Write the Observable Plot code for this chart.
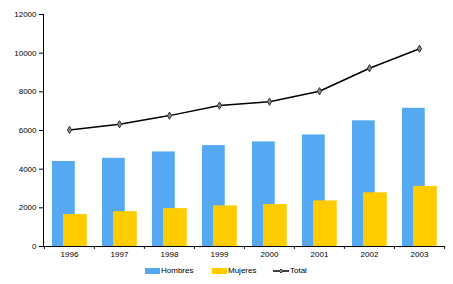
<!DOCTYPE html>
<html>
<head>
<meta charset="utf-8">
<script src="https://cdn.jsdelivr.net/npm/d3@7"></script>
<script src="https://cdn.jsdelivr.net/npm/@observablehq/plot@0.6"></script>
<style>
  body { margin: 0; background: #fff; font-family: "Liberation Sans", Arial, sans-serif; }
  #wrap { position: relative; width: 453px; height: 284px; }
  .leg { position: absolute; top: 262px; height: 18px; line-height: 18px; font-size: 8px; color: #000; white-space: nowrap; }
  .sw { position: absolute; top: 6px; width: 15px; height: 6px; }
</style>
</head>
<body>
<div id="wrap"></div>
<script>
const years = ["1996", "1997", "1998", "1999", "2000", "2001", "2002", "2003"];
const hombres = [4400, 4560, 4890, 5220, 5410, 5770, 6500, 7150];
const mujeres = [1650, 1800, 1960, 2100, 2170, 2360, 2780, 3110];
const total = [6030, 6320, 6770, 7290, 7490, 8030, 9220, 10230];
const yTicks = [0, 2000, 4000, 6000, 8000, 10000, 12000];
const seriesNames = ["Hombres", "Mujeres", "Total"];
const colors = {Hombres: "#55a9f2", Mujeres: "#ffcc00", Total: "#000000"};

const data = years.map((y, i) => ({year: y, hombres: hombres[i], mujeres: mujeres[i], total: total[i]}));
const W = 453, H = 262, mL = 43, mR = 8;
const bw = (W - mL - mR) / years.length;

const chart = Plot.plot({
  width: W,
  height: H,
  marginLeft: mL,
  marginRight: mR,
  marginTop: 14,
  marginBottom: 16,
  style: {fontFamily: "Liberation Sans, Arial, sans-serif", fontSize: "8px", color: "#000", background: "#fff"},
  x: {domain: years, padding: 0, axis: null, label: null},
  y: {domain: [0, 12000], axis: null, label: null},
  marks: [
    Plot.barY(data, {x: "year", y: "hombres", fill: colors.Hombres, insetLeft: 8, insetRight: bw - 8 - 23}),
    Plot.barY(data, {x: "year", y: "mujeres", fill: colors.Mujeres, insetLeft: 19, insetRight: bw - 19 - 24}),
    Plot.ruleY([0], {stroke: "#000", strokeWidth: 1}),
    Plot.ruleX(years, {x: d => d, y1: 0, y2: -150, dx: -bw / 2, stroke: "#000"}),
    Plot.ruleX([years[years.length - 1]], {x: d => d, y1: 0, y2: -150, dx: bw / 2, stroke: "#000"}),
    Plot.frame({anchor: "left", stroke: "#000", strokeDasharray: "2,1"}),
    Plot.axisY(yTicks, {tickSize: 4, tickPadding: 3, fontSize: 8, stroke: "#000", tickFormat: d => String(d), label: null}),
    Plot.axisX({tickSize: 0, tickPadding: 5, fontSize: 8, label: null}),
    Plot.line(data, {x: "year", y: "total", stroke: "#000", strokeWidth: 1.5}),
    Plot.dot(data, {x: "year", y: "total", symbol: "diamond", r: 2.2, fill: "#888", stroke: "#333", strokeWidth: 1})
  ]
});
const wrap = document.getElementById("wrap");
wrap.appendChild(chart);

const legPos = [
  {name: seriesNames[0], x: 145, type: "box"},
  {name: seriesNames[1], x: 212, type: "box"},
  {name: seriesNames[2], x: 273, type: "line"}
];
for (const p of legPos) {
  const d = document.createElement("div");
  d.className = "leg";
  d.style.left = p.x + "px";
  if (p.type === "box") {
    d.innerHTML = `<span class="sw" style="left:0;background:${colors[p.name]}"></span><span style="margin-left:16px">${p.name}</span>`;
  } else {
    d.innerHTML = `<svg width="16" height="18" style="position:absolute;left:0;top:0"><line x1="0" x2="16" y1="9" y2="9" stroke="#000" stroke-width="1.5"/><path d="M8,7L10,9L8,11L6,9Z" fill="#888" stroke="#333"/></svg><span style="margin-left:17px">${p.name}</span>`;
  }
  wrap.appendChild(d);
}
</script>
</body>
</html>
